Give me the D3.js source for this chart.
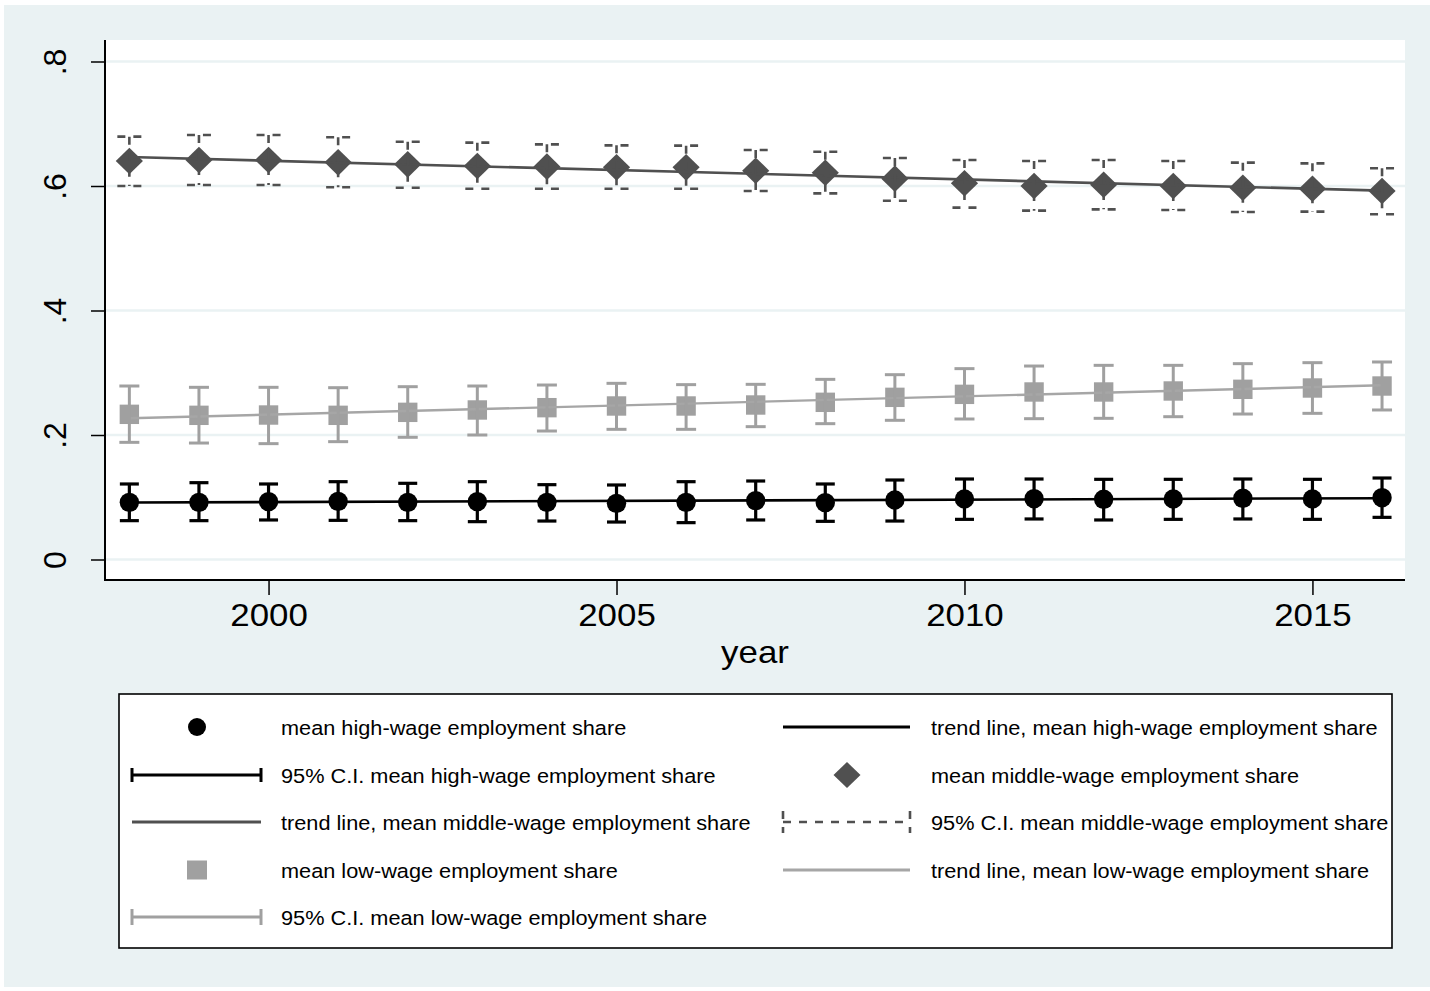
<!DOCTYPE html>
<html><head><meta charset="utf-8">
<script src="https://cdn.jsdelivr.net/npm/d3@7"></script>
<style>
body{margin:0;background:#fff}
svg{display:block}
text{font-family:"Liberation Sans",Arial,Helvetica,sans-serif;fill:#000}
</style>
</head><body>
<svg id="c" width="1430" height="991"></svg>
<script>
// ---- data ----
const years = [1998,1999,2000,2001,2002,2003,2004,2005,2006,2007,2008,2009,2010,2011,2012,2013,2014,2015,2016];
const highMean = [0.0918,0.0918,0.0929,0.0934,0.0918,0.0929,0.0918,0.0902,0.0918,0.0945,0.0913,0.0956,0.0972,0.0977,0.0967,0.0972,0.0983,0.0972,0.0993];
const highHi   = [0.1213,0.1234,0.1213,0.1250,0.1224,0.1250,0.1202,0.1197,0.1250,0.1261,0.1213,0.1277,0.1293,0.1293,0.1288,0.1288,0.1293,0.1288,0.1309];
const highLo   = [0.0624,0.0624,0.0635,0.0629,0.0624,0.0608,0.0618,0.0602,0.0592,0.0635,0.0613,0.0618,0.0645,0.0651,0.0635,0.0645,0.0651,0.0645,0.0677];
const midMean  = [0.6402,0.6418,0.6418,0.6380,0.6348,0.6321,0.6311,0.6300,0.6300,0.6246,0.6214,0.6118,0.6043,0.6000,0.6021,0.6000,0.5973,0.5957,0.5920];
const midHi    = [0.6793,0.6819,0.6819,0.6782,0.6712,0.6696,0.6669,0.6653,0.6648,0.6578,0.6551,0.6450,0.6418,0.6402,0.6418,0.6402,0.6375,0.6364,0.6284];
const midLo    = [0.6000,0.6016,0.6016,0.5979,0.5973,0.5957,0.5957,0.5957,0.5957,0.5920,0.5882,0.5764,0.5652,0.5604,0.5625,0.5614,0.5582,0.5588,0.5545];
const lowMean  = [0.2332,0.2316,0.2321,0.2316,0.2364,0.2402,0.2439,0.2466,0.2466,0.2482,0.2525,0.2605,0.2653,0.2691,0.2691,0.2707,0.2734,0.2755,0.2787];
const lowHi    = [0.2787,0.2766,0.2766,0.2760,0.2776,0.2787,0.2803,0.2830,0.2809,0.2814,0.2894,0.2969,0.3066,0.3108,0.3119,0.3119,0.3146,0.3162,0.3173];
const lowLo    = [0.1882,0.1871,0.1861,0.1893,0.1963,0.2000,0.2064,0.2091,0.2091,0.2134,0.2182,0.2236,0.2257,0.2262,0.2268,0.2294,0.2337,0.2348,0.2402];
// linear-fit trend lines: value at first and last year
const trendYears = [1998, 2016];
const trendHigh = [0.0915, 0.0985];
const trendMid  = [0.6466, 0.5925];
const trendLow  = [0.2268, 0.2798];
const yTicks = [0, 0.2, 0.4, 0.6, 0.8];
const yTickLabels = ["0", ".2", ".4", ".6", ".8"];
const xTicks = [2000, 2005, 2010, 2015];
const xTitle = "year";
const legendLabels = [
  "mean high-wage employment share",
  "trend line, mean high-wage employment share",
  "95% C.I. mean high-wage employment share",
  "mean middle-wage employment share",
  "trend line, mean middle-wage employment share",
  "95% C.I. mean middle-wage employment share",
  "mean low-wage employment share",
  "trend line, mean low-wage employment share",
  "95% C.I. mean low-wage employment share"
];

// ---- styles ----
const BG = "#eaf2f3";
const C_HIGH = "#000000", C_MID = "#505050", C_LOW = "#a0a0a0", C_LOWLINE = "#a6a6a6";

const svg = d3.select("#c");
const P = {l:105, r:1405, t:40, b:580};
const x = d3.scaleLinear().domain([1997.65, 2016.33]).range([P.l, P.r]);
const y = d3.scaleLinear().domain([0, 0.8]).range([559.5, 61.5]);

svg.append("rect").attr("x",4).attr("y",5).attr("width",1426).attr("height",982).attr("fill",BG);
svg.append("rect").attr("x",P.l).attr("y",P.t).attr("width",P.r-P.l).attr("height",P.b-P.t).attr("fill","#fff");

// grid
svg.append("g").selectAll("line").data(yTicks).join("line")
  .attr("x1",P.l).attr("x2",P.r).attr("y1",d=>y(d)).attr("y2",d=>y(d))
  .attr("stroke",BG).attr("stroke-width",2.3);

// y axis
const yAxis = svg.append("g").attr("transform",`translate(${P.l},0)`)
  .call(d3.axisLeft(y).tickValues(yTicks).tickSize(14).tickPadding(0).tickFormat((d,i)=>yTickLabels[i]));
yAxis.select(".domain").remove();
yAxis.selectAll(".tick line").attr("stroke","#000").attr("stroke-width",1.5);
yAxis.selectAll(".tick text")
  .attr("x",null).attr("dy",null)
  .attr("transform","translate(-39,0) rotate(-90)")
  .attr("text-anchor","middle").attr("font-size",32).attr("fill","#000");
svg.append("line").attr("x1",P.l).attr("x2",P.l).attr("y1",P.t).attr("y2",P.b+1).attr("stroke","#000").attr("stroke-width",2);

// x axis
const xAxis = svg.append("g").attr("transform",`translate(0,${P.b})`)
  .call(d3.axisBottom(x).tickValues(xTicks).tickSize(15).tickFormat(d3.format("d")));
xAxis.select(".domain").remove();
xAxis.selectAll(".tick line").attr("stroke","#000").attr("stroke-width",1.5);
xAxis.selectAll(".tick text").attr("y",null).attr("dy",null)
  .attr("transform","translate(0,46) scale(1.09,1)")
  .attr("text-anchor","middle").attr("font-size",32).attr("fill","#000");
svg.append("line").attr("x1",P.l-1).attr("x2",P.r).attr("y1",P.b).attr("y2",P.b).attr("stroke","#000").attr("stroke-width",2);

svg.append("text").attr("transform",`translate(${(P.l+P.r)/2},663) scale(1.09,1)`)
  .attr("text-anchor","middle").attr("font-size",32).text(xTitle);

// ---- series drawing helpers ----
const plot = svg.append("g");
function markers(vals, shape, color){
  const g = plot.append("g");
  years.forEach((yr,i)=>{
    const cx = x(yr), cy = y(vals[i]);
    if(shape==="circle") g.append("circle").attr("cx",cx).attr("cy",cy).attr("r",9.7).attr("fill",color);
    else if(shape==="square") g.append("rect").attr("x",cx-9.7).attr("y",cy-9.7).attr("width",19.4).attr("height",19.4).attr("fill",color);
    else g.append("path").attr("d",`M${cx},${cy-13.3}L${cx+13.6},${cy}L${cx},${cy+13.3}L${cx-13.6},${cy}Z`).attr("fill",color);
  });
}
function trend(vals, color, w){
  plot.append("path").datum(trendYears.map((yr,i)=>[yr,vals[i]]))
    .attr("d",d3.line().x(d=>x(d[0])).y(d=>y(d[1])))
    .attr("fill","none").attr("stroke",color).attr("stroke-width",w);
}
function rcap(lo, hi, color, w, hw, dash){
  const g = plot.append("g").attr("stroke",color).attr("stroke-width",w).attr("fill","none");
  years.forEach((yr,i)=>{
    const cx = x(yr), yh = y(hi[i]), yl = y(lo[i]);
    const v = g.append("line").attr("x1",cx).attr("x2",cx).attr("y1",yh).attr("y2",yl);
    const c1 = g.append("line").attr("x1",cx-hw).attr("x2",cx+hw).attr("y1",yh).attr("y2",yh);
    const c2 = g.append("line").attr("x1",cx-hw).attr("x2",cx+hw).attr("y1",yl).attr("y2",yl);
    if(dash){ [v,c1,c2].forEach(l=>l.attr("stroke-dasharray",dash)); }
  });
}

markers(highMean,"circle",C_HIGH);
trend(trendHigh,C_HIGH,2.6);
rcap(highLo,highHi,C_HIGH,3.2,9.5,null);
markers(midMean,"diamond",C_MID);
trend(trendMid,C_MID,2.6);
rcap(midLo,midHi,C_MID,2.6,12,"8,8");
markers(lowMean,"square",C_LOW);
trend(trendLow,C_LOWLINE,2.4);
rcap(lowLo,lowHi,C_LOW,3,10,null);

// ---- legend ----
const L = svg.append("g");
L.append("rect").attr("x",119).attr("y",694).attr("width",1273).attr("height",254)
  .attr("fill","#fff").attr("stroke","#000").attr("stroke-width",1.6);
const rowsY = [727, 775, 822, 870, 917];
const cols = [{kx1:132,kx2:261,sx:197,tx:281},{kx1:783,kx2:910,sx:847,tx:931}];
const keys = [
  {type:"circle",color:C_HIGH},
  {type:"line",color:C_HIGH,w:2.8},
  {type:"cap",color:C_HIGH,w:3,h:7},
  {type:"diamond",color:C_MID},
  {type:"line",color:C_MID,w:2.8},
  {type:"cap",color:C_MID,w:2.6,h:11,dash:"8,8"},
  {type:"square",color:C_LOW},
  {type:"line",color:C_LOWLINE,w:2.8},
  {type:"cap",color:C_LOW,w:3,h:8}
];
keys.forEach((k,i)=>{
  const col = cols[i%2], cy = rowsY[Math.floor(i/2)];
  const g = L.append("g");
  if(k.type==="circle") g.append("circle").attr("cx",col.sx).attr("cy",cy).attr("r",9).attr("fill",k.color);
  else if(k.type==="square") g.append("rect").attr("x",col.sx-10).attr("y",cy-9.5).attr("width",20).attr("height",19).attr("fill",k.color);
  else if(k.type==="diamond") g.append("path").attr("d",`M${col.sx},${cy-13}L${col.sx+13.5},${cy}L${col.sx},${cy+13}L${col.sx-13.5},${cy}Z`).attr("fill",k.color);
  else if(k.type==="line") g.append("line").attr("x1",col.kx1).attr("x2",col.kx2).attr("y1",cy).attr("y2",cy).attr("stroke",k.color).attr("stroke-width",k.w);
  else {
    const gg = g.append("g").attr("stroke",k.color).attr("stroke-width",k.w);
    const ls = [
      gg.append("line").attr("x1",col.kx1).attr("x2",col.kx2).attr("y1",cy).attr("y2",cy),
      gg.append("line").attr("x1",col.kx1).attr("x2",col.kx1).attr("y1",cy-k.h).attr("y2",cy+k.h),
      gg.append("line").attr("x1",col.kx2).attr("x2",col.kx2).attr("y1",cy-k.h).attr("y2",cy+k.h)
    ];
    if(k.dash) ls.forEach(l=>l.attr("stroke-dasharray",k.dash));
  }
  L.append("text").attr("transform",`translate(${col.tx},${cy+7.5}) scale(1.06,1)`)
    .attr("font-size",20.5).text(legendLabels[i]);
});
</script>
</body></html>
